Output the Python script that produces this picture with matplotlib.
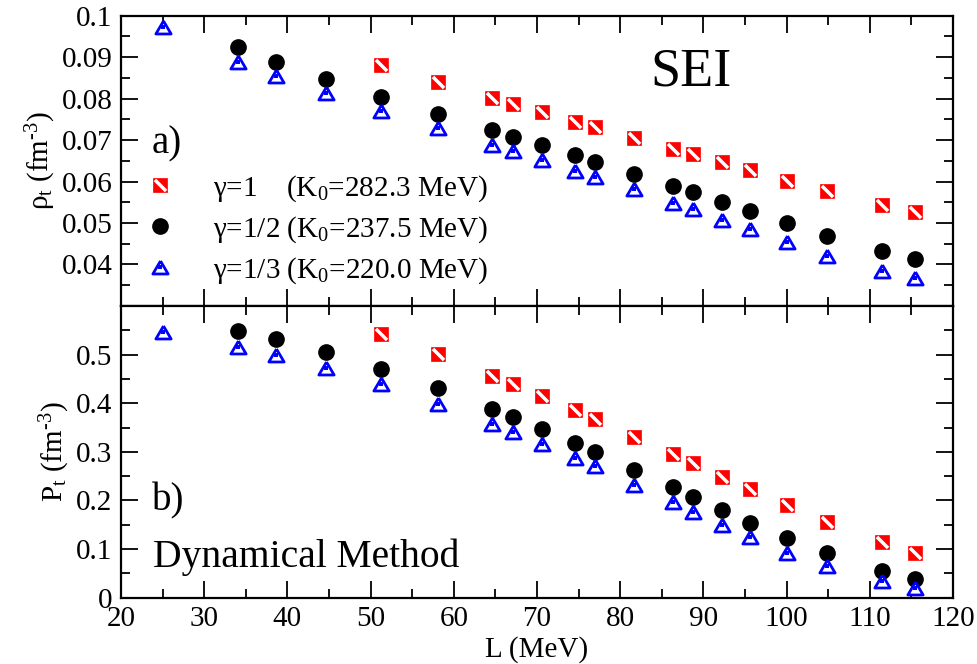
import numpy as np
import matplotlib.pyplot as plt
from matplotlib.ticker import MultipleLocator

plt.rcParams['font.family'] = 'serif'
plt.rcParams['font.serif'] = ['Liberation Serif', 'DejaVu Serif']
plt.rcParams['mathtext.fontset'] = 'custom'
plt.rcParams['mathtext.rm'] = 'Liberation Serif'
plt.rcParams['mathtext.it'] = 'Liberation Serif:italic'

# symmetry energy slope L (MeV)
L_all = [25.0, 34.1, 38.6, 44.6, 51.2, 58.1, 64.6, 67.1, 70.6, 74.6, 77.0,
         81.7, 86.3, 88.7, 92.3, 95.6, 100.1, 104.9, 111.5, 115.4]
L_sq = L_all[4:]
L_ci = L_all[1:]

# transition density rho_t (fm^-3)
rho_g1 = [0.0881, 0.0839, 0.0801, 0.0787, 0.0767, 0.0744, 0.0732, 0.0704,
          0.0679, 0.0667, 0.0646, 0.0627, 0.0602, 0.0577, 0.0544, 0.0526]
rho_g2 = [0.0924, 0.0889, 0.0847, 0.0805, 0.0763, 0.0724, 0.0708, 0.0688,
          0.0664, 0.0648, 0.0618, 0.0589, 0.0574, 0.0550, 0.0529, 0.0499,
          0.0469, 0.0433, 0.0413]
rho_g3 = [0.0973, 0.0889, 0.0855, 0.0814, 0.0771, 0.0728, 0.0688, 0.0674,
          0.0652, 0.0626, 0.0612, 0.0581, 0.0549, 0.0533, 0.0507, 0.0485,
          0.0454, 0.0421, 0.0385, 0.0367]

# transition pressure P_t
P_g1 = [0.543, 0.501, 0.457, 0.440, 0.415, 0.386, 0.367, 0.330, 0.295,
        0.277, 0.249, 0.224, 0.190, 0.156, 0.115, 0.093]
P_g2 = [0.549, 0.532, 0.505, 0.471, 0.431, 0.389, 0.372, 0.348, 0.318,
        0.300, 0.263, 0.227, 0.208, 0.180, 0.154, 0.122, 0.091, 0.055, 0.038]
P_g3 = [0.547, 0.516, 0.499, 0.472, 0.439, 0.399, 0.358, 0.341, 0.316,
        0.287, 0.270, 0.232, 0.196, 0.177, 0.150, 0.124, 0.093, 0.066,
        0.034, 0.019]

labels = ['γ=1    (K$_\\mathrm{0}$=282.3 MeV)',
          'γ=1/2 (K$_\\mathrm{0}$=237.5 MeV)',
          'γ=1/3 (K$_\\mathrm{0}$=220.0 MeV)']

tri = [(0, 0.85), (-1, -0.85), (1, -0.85), (0, 0.85)]
slash = [(-1, 1), (1, -1)]


def draw_series(ax, x, y1, y2, y3):
    s1 = ax.plot(L_sq, y1, ls='none', marker='s', ms=10, mfc='red', mec='red', mew=0.5)[0]
    s2 = ax.plot(L_sq, y1, ls='none', marker=slash, ms=8, mec='white', mew=2.5)[0]
    c = ax.plot(L_ci, y2, ls='none', marker='o', ms=11, mfc='black', mec='black')[0]
    t1 = ax.plot(L_all, y3, ls='none', marker=tri, ms=11, mfc='white', mec='blue', mew=2)[0]
    t2 = ax.plot(L_all, y3, ls='none', marker='s', ms=3.5, mfc='blue', mec='blue', mew=0)[0]
    return (s1, s2), c, (t1, t2)


fig = plt.figure(figsize=(9.77, 6.64), dpi=100)
ax1 = fig.add_axes([0.1238, 0.5392, 0.8516, 0.4372])
ax2 = fig.add_axes([0.1238, 0.0998, 0.8516, 0.4394], sharex=ax1)

h = draw_series(ax1, L_all, rho_g1, rho_g2, rho_g3)
draw_series(ax2, L_all, P_g1, P_g2, P_g3)

ax1.set_xlim(20, 120)
ax1.set_ylim(0.03, 0.1)
ax2.set_ylim(0, 0.6)

ax1.xaxis.set_major_locator(MultipleLocator(10))
ax1.xaxis.set_minor_locator(MultipleLocator(5))
ax1.yaxis.set_major_locator(MultipleLocator(0.01))
ax1.yaxis.set_minor_locator(MultipleLocator(0.005))
ax2.yaxis.set_major_locator(MultipleLocator(0.1))
ax2.yaxis.set_minor_locator(MultipleLocator(0.05))

ax1.set_yticks([0.04, 0.05, 0.06, 0.07, 0.08, 0.09, 0.1])
ax1.set_yticklabels(['0.04', '0.05', '0.06', '0.07', '0.08', '0.09', '0.1'])
ax2.set_yticks([0, 0.1, 0.2, 0.3, 0.4, 0.5])
ax2.set_yticklabels(['0', '0.1', '0.2', '0.3', '0.4', '0.5'])

for ax in (ax1, ax2):
    ax.tick_params(which='both', direction='in', top=True, right=True,
                   labelsize=21, width=1.3, pad=6)
    ax.tick_params(which='major', length=12)
    ax.tick_params(which='minor', length=6.5)
    for sp in ax.spines.values():
        sp.set_linewidth(1.6)
ax1.tick_params(labelbottom=False)

ax1.set_ylabel('ρ$_\\mathrm{t}$ (fm$^{\\text{-3}}$)', fontsize=21, labelpad=3)
ax2.set_ylabel('P$_\\mathrm{t}$ (fm$^{\\text{-3}}$)', fontsize=21, labelpad=3)
ax2.set_xlabel('L (MeV)', fontsize=21, labelpad=3)

ax1.text(0.685, 0.761, 'SEI', transform=ax1.transAxes, fontsize=39,
         ha='center', va='baseline')
ax1.text(0.037, 0.527, 'a)', transform=ax1.transAxes, fontsize=28, va='baseline')
ax2.text(0.037, 0.30, 'b)', transform=ax2.transAxes, fontsize=28, va='baseline')
ax2.text(0.038, 0.105, 'Dynamical Method', transform=ax2.transAxes,
         fontsize=28.5, va='baseline')

ax1.legend(h, labels, loc='upper left', bbox_to_anchor=(0.012, 0.458),
           frameon=False, fontsize=21, borderpad=0, borderaxespad=0,
           handlelength=2.0, handletextpad=0.8, labelspacing=0.36)

fig.savefig('out.png', dpi=100)
